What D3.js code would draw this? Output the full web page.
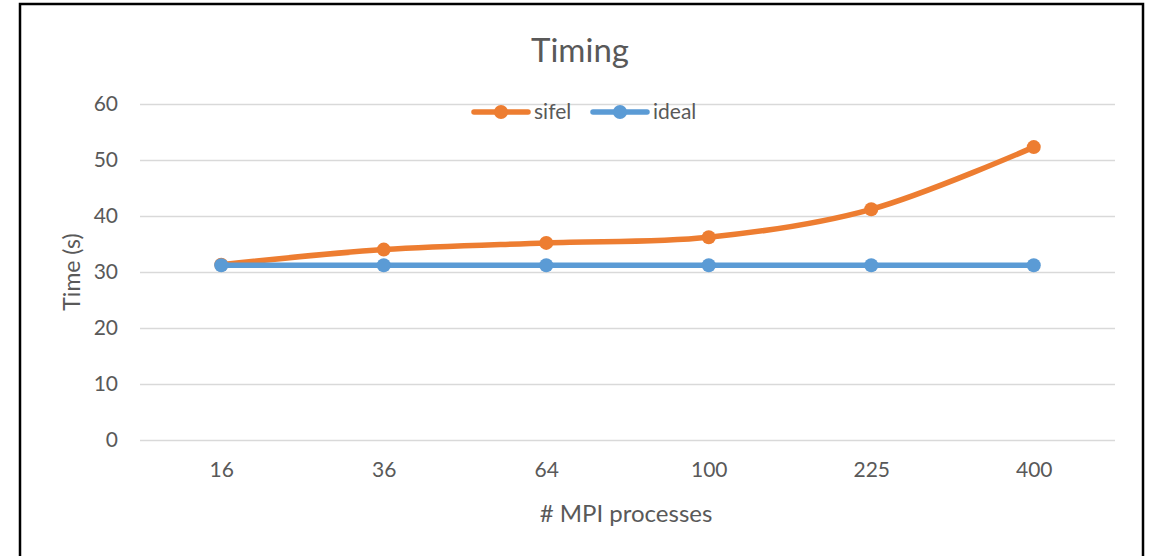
<html>
<head>
<script src="https://d3js.org/d3.v7.min.js"></script>
<style>
  body { margin: 0; background: #fff; }
  text { font-family: Lato, "Open Sans", sans-serif; fill: #595959; }
</style>
</head>
<body>
<div id="chart"></div>
<script>
// data
const categories = ["16", "36", "64", "100", "225", "400"];
const sifel = [31.3, 34.0, 35.2, 36.2, 41.2, 52.3];
const ideal = [31.2, 31.2, 31.2, 31.2, 31.2, 31.2];
const yTicks = [0, 10, 20, 30, 40, 50, 60];

const W = 1151, H = 556;
const margin = { top: 104, right: 36, bottom: 116, left: 140 };

const svg = d3.select("#chart").append("svg")
  .attr("width", W)
  .attr("height", H);

// chart frame
svg.append("rect")
  .attr("x", 20).attr("y", 4)
  .attr("width", 1123).attr("height", 570)
  .attr("fill", "none")
  .attr("stroke", "#000")
  .attr("stroke-width", 2.5);

const x = d3.scalePoint()
  .domain(categories)
  .range([margin.left, W - margin.right])
  .padding(0.5);

const y = d3.scaleLinear()
  .domain([0, 60])
  .range([H - margin.bottom, margin.top]);

// gridlines + y labels
const yAxis = svg.append("g")
  .attr("transform", "translate(" + margin.left + ",0)")
  .call(d3.axisLeft(y).tickValues(yTicks).tickSize(-(W - margin.left - margin.right)).tickPadding(22));
yAxis.select(".domain").remove();
yAxis.selectAll(".tick line").attr("stroke", "#d9d9d9").attr("stroke-width", 1.5);
yAxis.selectAll(".tick text").style("font-size", "21px").attr("fill", "#595959");

// x labels
const xAxis = svg.append("g")
  .attr("transform", "translate(0," + (H - margin.bottom) + ")")
  .call(d3.axisBottom(x).tickSize(0).tickPadding(22));
xAxis.select(".domain").remove();
xAxis.selectAll(".tick text").style("font-size", "21px").attr("fill", "#595959");

// titles
svg.append("text")
  .attr("x", 580).attr("y", 62)
  .attr("text-anchor", "middle")
  .style("font-size", "33px")
  .text("Timing");

svg.append("text")
  .attr("x", 626).attr("y", 522)
  .attr("text-anchor", "middle")
  .style("font-size", "24px")
  .text("# MPI processes");

svg.append("text")
  .attr("transform", "translate(80," + y(30) + ") rotate(-90)")
  .attr("text-anchor", "middle")
  .style("font-size", "23px")
  .text("Time (s)");

// series
const series = [
  { name: "sifel", values: sifel, color: "#ed7d31", curve: d3.curveCatmullRom.alpha(0) },
  { name: "ideal", values: ideal, color: "#5b9bd5", curve: d3.curveLinear }
];

series.forEach(s => {
  const line = d3.line()
    .x((d, i) => x(categories[i]))
    .y(d => y(d))
    .curve(s.curve);

  svg.append("path")
    .datum(s.values)
    .attr("d", line)
    .attr("fill", "none")
    .attr("stroke", s.color)
    .attr("stroke-width", 5.5)
    .attr("stroke-linecap", "round");

  svg.selectAll(null)
    .data(s.values)
    .enter()
    .append("circle")
    .attr("cx", (d, i) => x(categories[i]))
    .attr("cy", d => y(d))
    .attr("r", 7)
    .attr("fill", s.color);
});

// legend
const legendX = [474, 593];
series.forEach((s, i) => {
  const g = svg.append("g").attr("transform", "translate(" + legendX[i] + ",112)");
  g.append("line")
    .attr("x1", 0).attr("x2", 54)
    .attr("stroke", s.color).attr("stroke-width", 5.5).attr("stroke-linecap", "round");
  g.append("circle").attr("cx", 27).attr("r", 7).attr("fill", s.color);
  g.append("text")
    .attr("x", 60).attr("y", 7)
    .style("font-size", "21px")
    .text(s.name);
});
</script>
</body>
</html>
